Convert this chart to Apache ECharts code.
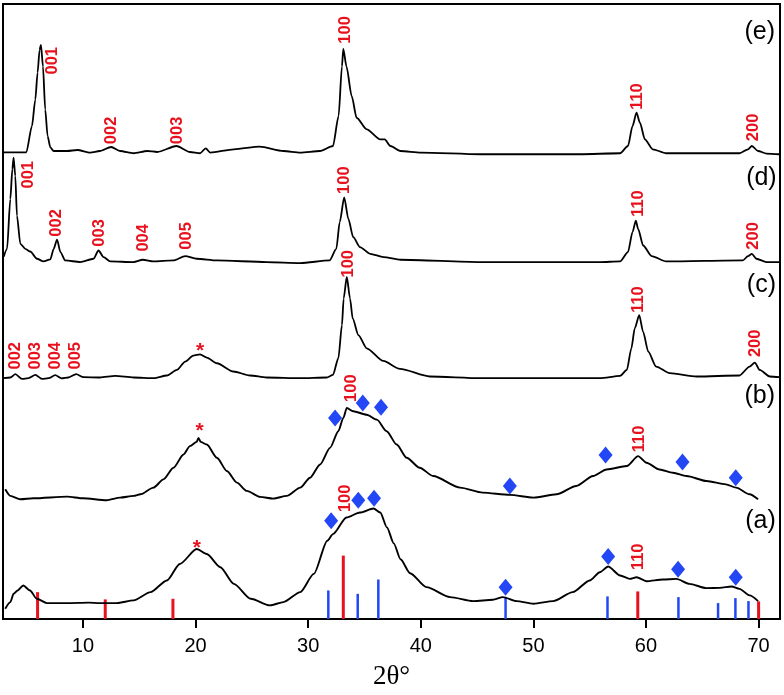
<!DOCTYPE html>
<html><head><meta charset="utf-8">
<script src="https://cdn.jsdelivr.net/npm/echarts@6/dist/echarts.min.js"></script>
<style>html,body{margin:0;padding:0;background:#fff}#c{width:784px;height:695px}</style>
</head><body><div id="c"></div>
<script>
// ---------- data (2θ, intensity in arbitrary units above each trace's own baseline) ----------
const xTicks = [10, 20, 30, 40, 50, 60, 70];

const traceA = [[3.1,10.3],[3.55,17],[3.84,25.3],[4.2,28.7],[4.7,33.7],[5.3,28.7],[5.9,20.3],[6.8,16],[8.6,16],[10.5,16.5],[11.5,16],[13.0,16],[14.5,18.7],[16.0,27],[17.45,38.7],[18.6,55.3],[20.1,70.3],[21.0,65.3],[22.2,52],[23.4,35.3],[24.9,20.3],[26.6,13.7],[27.8,17],[29.3,27],[30.5,45.3],[31.7,78.7],[32.2,85.3],[33.4,102],[34.6,107],[35.8,111],[36.4,107],[37.0,92],[37.6,76],[38.2,60],[39.05,46],[40.5,32],[42.6,22],[44.66,18],[46.4,19.3],[47.3,22],[48.5,18],[50,15.3],[51.76,18],[53.5,27],[55,38.7],[55.9,47],[56.64,52.7],[57.7,43.7],[58.56,40.3],[59.16,42],[60.04,38],[61.5,39.7],[62.7,40.3],[63.86,35.3],[65.37,31],[66.55,31.3],[67.6,32.7],[68.3,30.3],[69.2,23.7],[69.95,18]];

const traceB = [[3.1,8.3],[3.55,1.7],[4.44,-1.7],[5.6,-0.7],[8.6,1],[10.0,-0.7],[12.1,-2.7],[13.3,0],[14.5,1.7],[15.1,3.3],[16.26,10],[17.15,18.3],[18.04,30],[18.93,43.3],[19.5,51.7],[20.1,56],[20.26,60],[20.45,56],[21.0,53.3],[21.9,40],[22.78,26.7],[23.67,15],[24.55,6.7],[25.73,0.7],[26.9,-1],[28.1,1.7],[29.3,10],[30.17,20],[31.06,33.3],[31.94,50],[32.68,66.7],[33.12,80],[33.43,90],[34.0,86.7],[35.2,83.3],[36.1,78.3],[36.97,66.7],[37.86,53.3],[38.75,40],[39.9,30],[41.1,21.7],[43.5,10],[45.5,5],[47.9,2.7],[50,0],[52.06,3.3],[53.8,11.7],[55.3,21.7],[56.5,28.3],[58.3,31.7],[59.3,41.7],[60.04,35],[61.2,28.3],[62.4,25],[63.6,21.7],[65.37,16.7],[67.1,13.3],[68.0,10],[69.2,3.3],[69.95,-1.7]];

const traceC = [[2.96,0],[3.55,0.7],[4.0,4],[4.59,-0.7],[5.17,0],[5.77,3.3],[6.36,-0.7],[6.95,0],[7.54,3],[8.1,-0.3],[8.7,0.7],[9.4,4],[10.05,1],[11.5,0.7],[12.87,2.3],[14.5,0.7],[16.3,0],[17.45,2.7],[18.34,8.3],[19.08,16.7],[19.8,22.7],[20.4,24],[21.0,20.7],[21.9,15],[23.36,6.7],[24.84,2.7],[26.3,0.7],[29.3,0],[31.65,0.7],[32.2,3.3],[32.68,20],[33.0,53.3],[33.15,80],[33.43,101.7],[33.72,80],[33.95,60],[34.46,43.3],[35.2,30],[36.67,17.3],[38.15,9.3],[40.8,1.7],[45.3,0],[55.9,0],[57.7,2.3],[58.3,8.3],[58.7,30],[59.0,50],[59.4,63.3],[59.74,46.7],[60.2,26.7],[60.9,11.7],[62.1,5],[64.5,1.7],[68.3,2.7],[69.2,11.7],[69.66,15.7],[70.1,8.3],[71.0,1.7],[71.86,1]];

const traceD = [[2.96,5],[3.26,13],[3.55,63],[3.73,93],[3.84,104.7],[3.99,86.3],[4.14,46.3],[4.44,18],[4.88,13],[5.32,10.3],[5.92,3],[6.5,0.3],[7.1,2.3],[7.4,13],[7.7,22.3],[8.0,9.7],[8.43,1.3],[9.76,-0.3],[10.94,3],[11.38,11.3],[11.83,4.7],[12.42,0.3],[14.49,-0.3],[15.32,2],[16.26,0.3],[18.04,1.3],[19.08,5.7],[20.1,3],[21.9,1.3],[26.3,-0.3],[29.3,-1.3],[31.9,1.3],[32.5,13],[32.8,39.7],[33.2,64.7],[33.57,43],[34.0,24.7],[34.6,14.7],[35.5,8],[36.7,4.7],[38.2,2],[45.3,-0.3],[55.9,-0.3],[57.7,0.3],[58.4,9.7],[58.8,29.7],[59.1,41.3],[59.3,33],[59.75,16.3],[60.5,5.7],[61.8,0.3],[68.6,1.3],[69.06,5.7],[69.4,8],[69.8,3],[70.7,-0.3],[71.86,-0.3]];

const traceE = [[2.96,2],[4.97,2],[5.47,28.3],[5.77,55],[5.97,82],[6.15,105],[6.27,110],[6.45,88.3],[6.65,45],[6.86,18.3],[7.1,7],[7.4,3.3],[8.6,3.3],[9.5,4.3],[10.65,1.7],[11.5,3.3],[12.5,7.3],[13.3,3.3],[14.5,1],[15.7,3.3],[16.6,2.3],[18.3,8.3],[19.5,2.3],[20.4,1],[20.9,6],[21.3,1.7],[23.4,5],[25.7,7.7],[27.8,3.3],[29.3,1.7],[31.05,3.3],[32.2,8.3],[32.7,38.3],[33.0,88.3],[33.12,106],[33.4,88.3],[33.87,58.3],[34.3,36.7],[35.2,25],[36.4,15],[36.8,15],[37.3,8.3],[38.2,3.3],[40,1.7],[45.3,0],[54.1,0],[57.7,1],[58.4,8.3],[58.8,28.3],[59.16,41.7],[59.46,31.7],[59.9,15],[60.6,5],[61.8,1],[68.3,1],[69.06,5],[69.4,8.3],[69.95,3.3],[70.7,0.7],[71.86,0]];

// vertical stacking offset of each pattern
const offsetA = 0, offsetB = 122, offsetC = 242, offsetD = 359, offsetE = 467;

// reference stick patterns [2θ, relative intensity]
const redSticks  = [[5.97,27],[11.98,19.7],[17.99,20.3],[33.12,63.7],[59.27,27.7],[70.0,17.7]];
const blueSticks = [[31.79,28.7],[34.4,25.3],[36.23,39.7],[47.53,22],[56.58,22.7],[62.88,22],[66.4,16],[67.94,21],[69.1,18]];

// blue diamond markers [2θ, height]
const diamondsB = [[32.39,202],[34.85,217],[36.47,212.7],[47.91,133.7],[56.41,164.7],[63.24,157.7],[67.97,142]];
const diamondsA = [[32.04,98.7],[34.45,119.3],[35.85,121.3],[47.53,32],[56.64,62.7],[62.85,50],[67.97,42]];

// hkl annotations [2θ, height, text]
const hklLabels = [
  [7.30,561,'001'],[12.51,491,'002'],[18.43,491,'003'],[33.27,592,'100'],[59.27,525,'110'],[69.57,494,'200'],
  [5.17,446.4,'001'],[7.69,398,'002'],[11.47,388,'003'],[15.38,383,'004'],[19.23,385,'005'],[33.19,441,'100'],[59.36,417.5,'110'],[69.57,385,'200'],
  [3.99,264.5,'002'],[5.77,264.5,'003'],[7.54,264.5,'004'],[9.32,264.5,'005'],[33.57,357,'100'],[59.36,321,'110'],[69.72,277,'200'],
  [33.81,232,'100'],[59.39,181,'110'],
  [33.27,121.3,'100'],[59.36,62.5,'110']
];
const starLabels = [[20.41,269],[20.35,189],[20.12,71]];
const sampleLabels = [[70.1,590,'(e)'],[70.25,443,'(d)'],[70.25,335.3,'(c)'],[70.1,224,'(b)'],[70.17,98.7,'(a)']];

// ---------- chart ----------
const RED = '#e8121e', BLUE = '#2347f5';
const shift = (arr, off) => arr.map(p => [p[0], p[1] + off]);

function traceSeries(name, arr, off, w) {
  return {
    name, type: 'line', data: shift(arr, off), showSymbol: false, symbol: 'none',
    smooth: 0.25, smoothMonotone: 'x',
    lineStyle: { color: '#000', width: w, opacity: 1 }, z: 3, silent: true
  };
}
function stickSeries(arr, color) {
  return {
    type: 'custom', data: arr, z: 2, silent: true,
    renderItem: function (params, api) {
      const x = api.value(0), h = api.value(1);
      const p0 = api.coord([x, 0]), p1 = api.coord([x, h]);
      return { type: 'line', shape: { x1: p0[0], y1: p0[1], x2: p1[0], y2: p1[1] },
               style: { stroke: color, lineWidth: color === RED ? 3 : 2.5 } };
    }
  };
}
const labelSeries = (data, label) => ({
  type: 'scatter', data, symbolSize: 0, z: 6, silent: true,
  itemStyle: { opacity: 1 }, label: Object.assign({ show: true, position: 'inside', opacity: 1,
    align: 'center', verticalAlign: 'middle', fontFamily: 'Liberation Sans' }, label)
});

const chart = echarts.init(document.getElementById('c'), null, { renderer: 'canvas' });
chart.setOption({
  animation: false,
  backgroundColor: '#fff',
  grid: { left: 3, right: 4, top: 4, bottom: 73, show: true, borderColor: '#000', borderWidth: 2, backgroundColor: 'transparent' },
  xAxis: {
    type: 'value', min: 2.9, max: 71.9,
    name: '2θ°', nameLocation: 'middle', nameGap: 44,
    nameTextStyle: { fontFamily: 'Liberation Serif', fontSize: 27, color: '#000' },
    axisLine: { show: true, lineStyle: { color: '#000', width: 2 } },
    axisTick: { show: true, inside: false, length: 9, lineStyle: { color: '#000', width: 2 }, customValues: xTicks },
    axisLabel: { show: true, margin: 17, fontFamily: 'Liberation Sans', fontSize: 20, color: '#000', customValues: xTicks },
    splitLine: { show: false }
  },
  yAxis: { type: 'value', min: 0, max: 618, show: false, splitLine: { show: false } },
  series: [
    stickSeries(redSticks, RED),
    stickSeries(blueSticks, BLUE),
    traceSeries('a', traceA, offsetA, 1.9),
    traceSeries('b', traceB, offsetB, 1.9),
    traceSeries('c', traceC, offsetC, 1.8),
    traceSeries('d', traceD, offsetD, 1.8),
    traceSeries('e', traceE, offsetE, 1.8),
    { type: 'scatter', data: diamondsB.concat(diamondsA), symbol: 'diamond', symbolSize: [14, 17],
      itemStyle: { color: BLUE, opacity: 1 }, z: 5, silent: true },
    labelSeries(hklLabels.map(d => ({ value: [d[0], d[1]], name: d[2] })),
      { rotate: 90, formatter: p => p.name, color: RED, fontWeight: 'bold', fontSize: 16.5 }),
    labelSeries(starLabels.map(d => ({ value: d, name: '*' })),
      { formatter: '*', color: RED, fontWeight: 'bold', fontSize: 21 }),
    labelSeries(sampleLabels.map(d => ({ value: [d[0], d[1]], name: d[2] })),
      { formatter: p => p.name, color: '#000', fontSize: 25 })
  ]
});
</script>
</body></html>
